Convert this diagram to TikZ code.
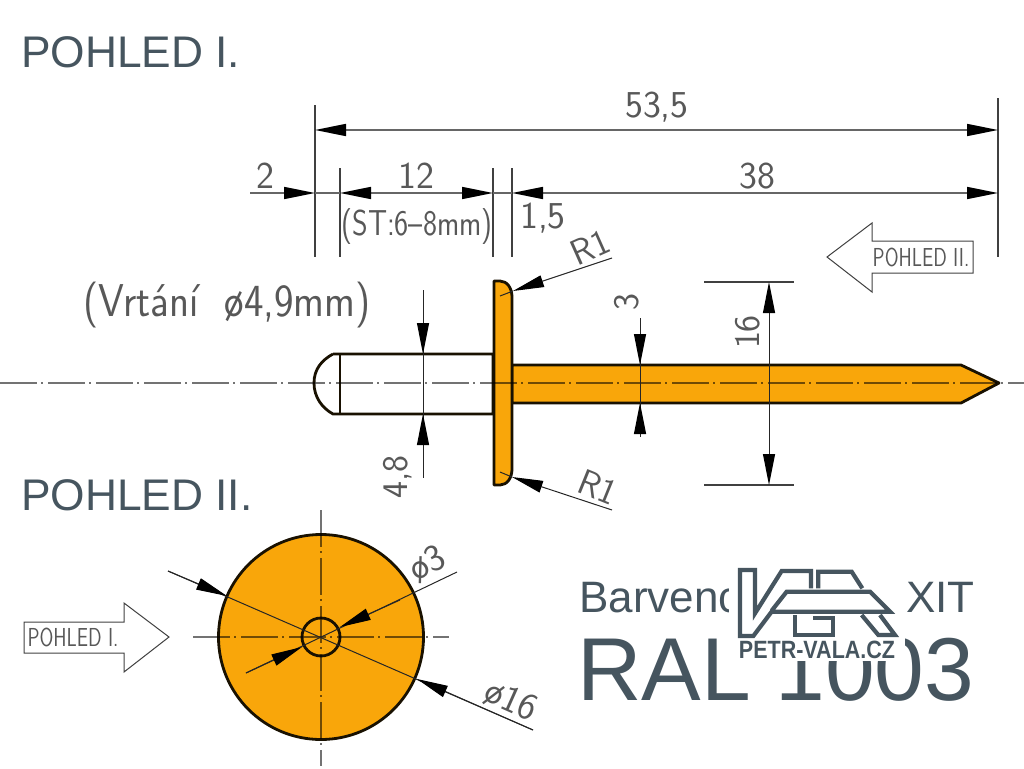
\documentclass[tikz,border=0pt]{standalone}
\usepackage{fontspec}
\usepackage{xcolor}
\setmainfont{Liberation Sans}
\usetikzlibrary{arrows.meta}
\definecolor{rivetorange}{HTML}{F9A60A}
\definecolor{slate}{HTML}{46555F}
\definecolor{cadgrey}{HTML}{585858}

\begin{document}
\begin{tikzpicture}[x=1pt, y=-1pt, every node/.style={inner sep=0pt},
        >={Triangle[length=31pt,width=12pt,color=black]},
        dimline/.style={draw=black!60, line width=1.7pt},
        leader/.style={draw=black!85, line width=1pt},
        extline/.style={draw=black!75, line width=1.1pt},
        axisline/.style={draw=black, opacity=.55, line width=1.3pt, dash pattern=on 37pt off 4pt on 2pt off 5pt},
        outline/.style={draw=black!90!rivetorange, line width=2.8pt, line join=round},
        viewarrow/.style={draw=black!75, line width=1pt, line join=miter},
        cad/.style={font=\sffamily\fontsize{#1}{#1}\selectfont, text=cadgrey},
        heading/.style={font=\fontsize{#1}{#1}\selectfont, text=slate},
        logoline/.style={draw=slate, line width=4.2pt, line join=miter}]
    \useasboundingbox (0,0) rectangle (1024,768);

    % headings
    \node[heading=44.3, anchor=base west] (titlefirst) at (21,67) {POHLED I.};
    \node[heading=44.3, anchor=base west] (titlesecond) at (21,510) {POHLED II.};

    % rivet, side view
    \draw[outline, fill=white] (333,354) -- (493,354) -- (493,414) -- (333,414)
        .. controls (322,408) and (314,397) .. (314,383)
        .. controls (314,369) and (322,360) .. (333,354);
    \draw[outline] (340,354) -- (340,414);
    \draw[outline, fill=rivetorange] (512,365) -- (961,365) -- (999,383) -- (961,403) -- (512,403) -- cycle;
    \draw[outline, fill=rivetorange] (494,281) -- (500,281) .. controls (507,281) and (512,288) .. (512,297)
        -- (512,469) .. controls (512,478) and (507,485) .. (500,485) -- (494,485) -- cycle;
    \draw[axisline] (0,383) -- (1024,383);

    % extension lines
    \foreach \xext/\ytop in {315/105,340/168,493/168,512/168,998/98}
        \draw[extline] (\xext,\ytop) -- (\xext,257);
    \draw[extline] (704,282) -- (794,282);
    \draw[extline] (704,485) -- (794,485);

    % dimensions above
    \draw[dimline, <->] (315,130) -- (998,130);
    \draw[dimline, ->] (250,193) -- (315,193);
    \draw[dimline] (315,193) -- (340,193);
    \draw[dimline, <->] (340,193) -- (493,193);
    \draw[dimline] (493,193) -- (512,193);
    \draw[dimline, <->] (512,193) -- (998,193);
    \node[cad=38] (lenall) at (657,107) {53,5};
    \node[cad=38] (lenfree) at (265,176) {2};
    \node[cad=38] (lengrip) at (416,176) {12};
    \node[cad=38] (lenpin) at (757,176) {38};
    \node[cad=38] (lenhead) at (543,218) {1,5};
    \node[cad=36, xscale=.83] (griprange) at (417,227) {(ST:6--8mm)};
    \node[cad=46, xscale=.9] (drilling) at (227,305) {(Vrtání\ \ ø4,9mm)};

    % dimensions across the rivet
    \draw[leader] (423,290) -- (423,478);
    \draw[leader, ->] (423,322) -- (423,354);
    \draw[leader, ->] (423,446) -- (423,414);
    \draw[leader] (640,318) -- (640,437);
    \draw[leader, ->] (640,333) -- (640,365);
    \draw[leader, ->] (640,435) -- (640,403);
    \draw[leader, <->] (769,282) -- (769,485);
    \node[cad=36, rotate=90] (dimbody) at (398,477) {4,8};
    \node[cad=36, rotate=90] (dimpin) at (627,302) {3};
    \node[cad=36, rotate=90] (dimhead) at (748,332) {16};

    % radii
    \draw[leader, ->] (612,258) -- (513,291);
    \draw[leader] (513,291) -- (500,296);
    \draw[leader, ->] (612,510) -- (512,477);
    \draw[leader] (512,477) -- (500,472);
    \node[cad=36, rotate=24] (radiustop) at (590,247) {R1};
    \node[cad=36, rotate=-22] (radiusbottom) at (598,487) {R1};

    % view arrows
    \draw[viewarrow] (827,257) -- (872,223) -- (872,241) -- (973,241) -- (973,273) -- (872,273) -- (872,292) -- cycle;
    \node[cad=26, xscale=.77] (viewsecond) at (921,257) {POHLED II.};
    \draw[viewarrow] (24,622) -- (124,622) -- (124,603) -- (169,637) -- (124,672) -- (124,653) -- (24,653) -- cycle;
    \node[cad=26, xscale=.77] (viewfirst) at (73,637) {POHLED I.};

    % rivet, front view
    \draw[outline, fill=rivetorange] (321,637) circle (102.5);
    \draw[outline, fill=rivetorange] (321,637) circle (19);
    \draw[axisline] (321,510) -- (321,766);
    \draw[axisline] (193,637) -- (449,637);
    \draw[leader] (168,571) -- (533,730);
    \draw[leader, ->] (168,571) -- (227,596);
    \draw[leader, ->] (533,730) -- (417,679);
    \draw[leader] (457,572) -- (246,673);
    \draw[leader, ->] (400,600) -- (340,627);
    \draw[leader, ->] (246,673) -- (302,647);
    \node[cad=38, rotate=27] (diamhole) at (428,564) {ø3};
    \node[cad=38, rotate=-24] (diamdisc) at (511,701) {ø16};

    % colour note under the logo
    \node[heading=44, anchor=base west] (colourleft) at (579,612) {Barvenc};
    \node[heading=44, anchor=base east] (colourright) at (975,612) {XIT};
    \node[heading=89.3, anchor=base west] (ralcode) at (577,700) {RAL 1003};
    \fill[white] (729,555) rectangle (905,661);

    % logo
    \begin{scope}[shift={(730,560)}, x=.3333pt, y=-.3333pt]
        \draw[logoline] (125,152) -- (170,95) -- (420,95) -- (480,155) -- (125,155) -- (70,228) -- (30,228) -- (30,30) -- (75,30) -- (75,160) -- (155,33) -- (243,33) -- (243,85);
        \draw[logoline] (265,85) -- (265,35) -- (365,35) -- (397,85);
        \draw[logoline] (195,165) -- (195,225) -- (310,225) -- (310,175) -- (250,175);
        \draw[logoline] (395,165) -- (445,225) -- (495,225) -- (450,165);
    \end{scope}
    \node[font=\bfseries\fontsize{25}{25}\selectfont, text=slate, xscale=.86] (logotext) at (817,650) {PETR-VALA.CZ};
\end{tikzpicture}
\end{document}
